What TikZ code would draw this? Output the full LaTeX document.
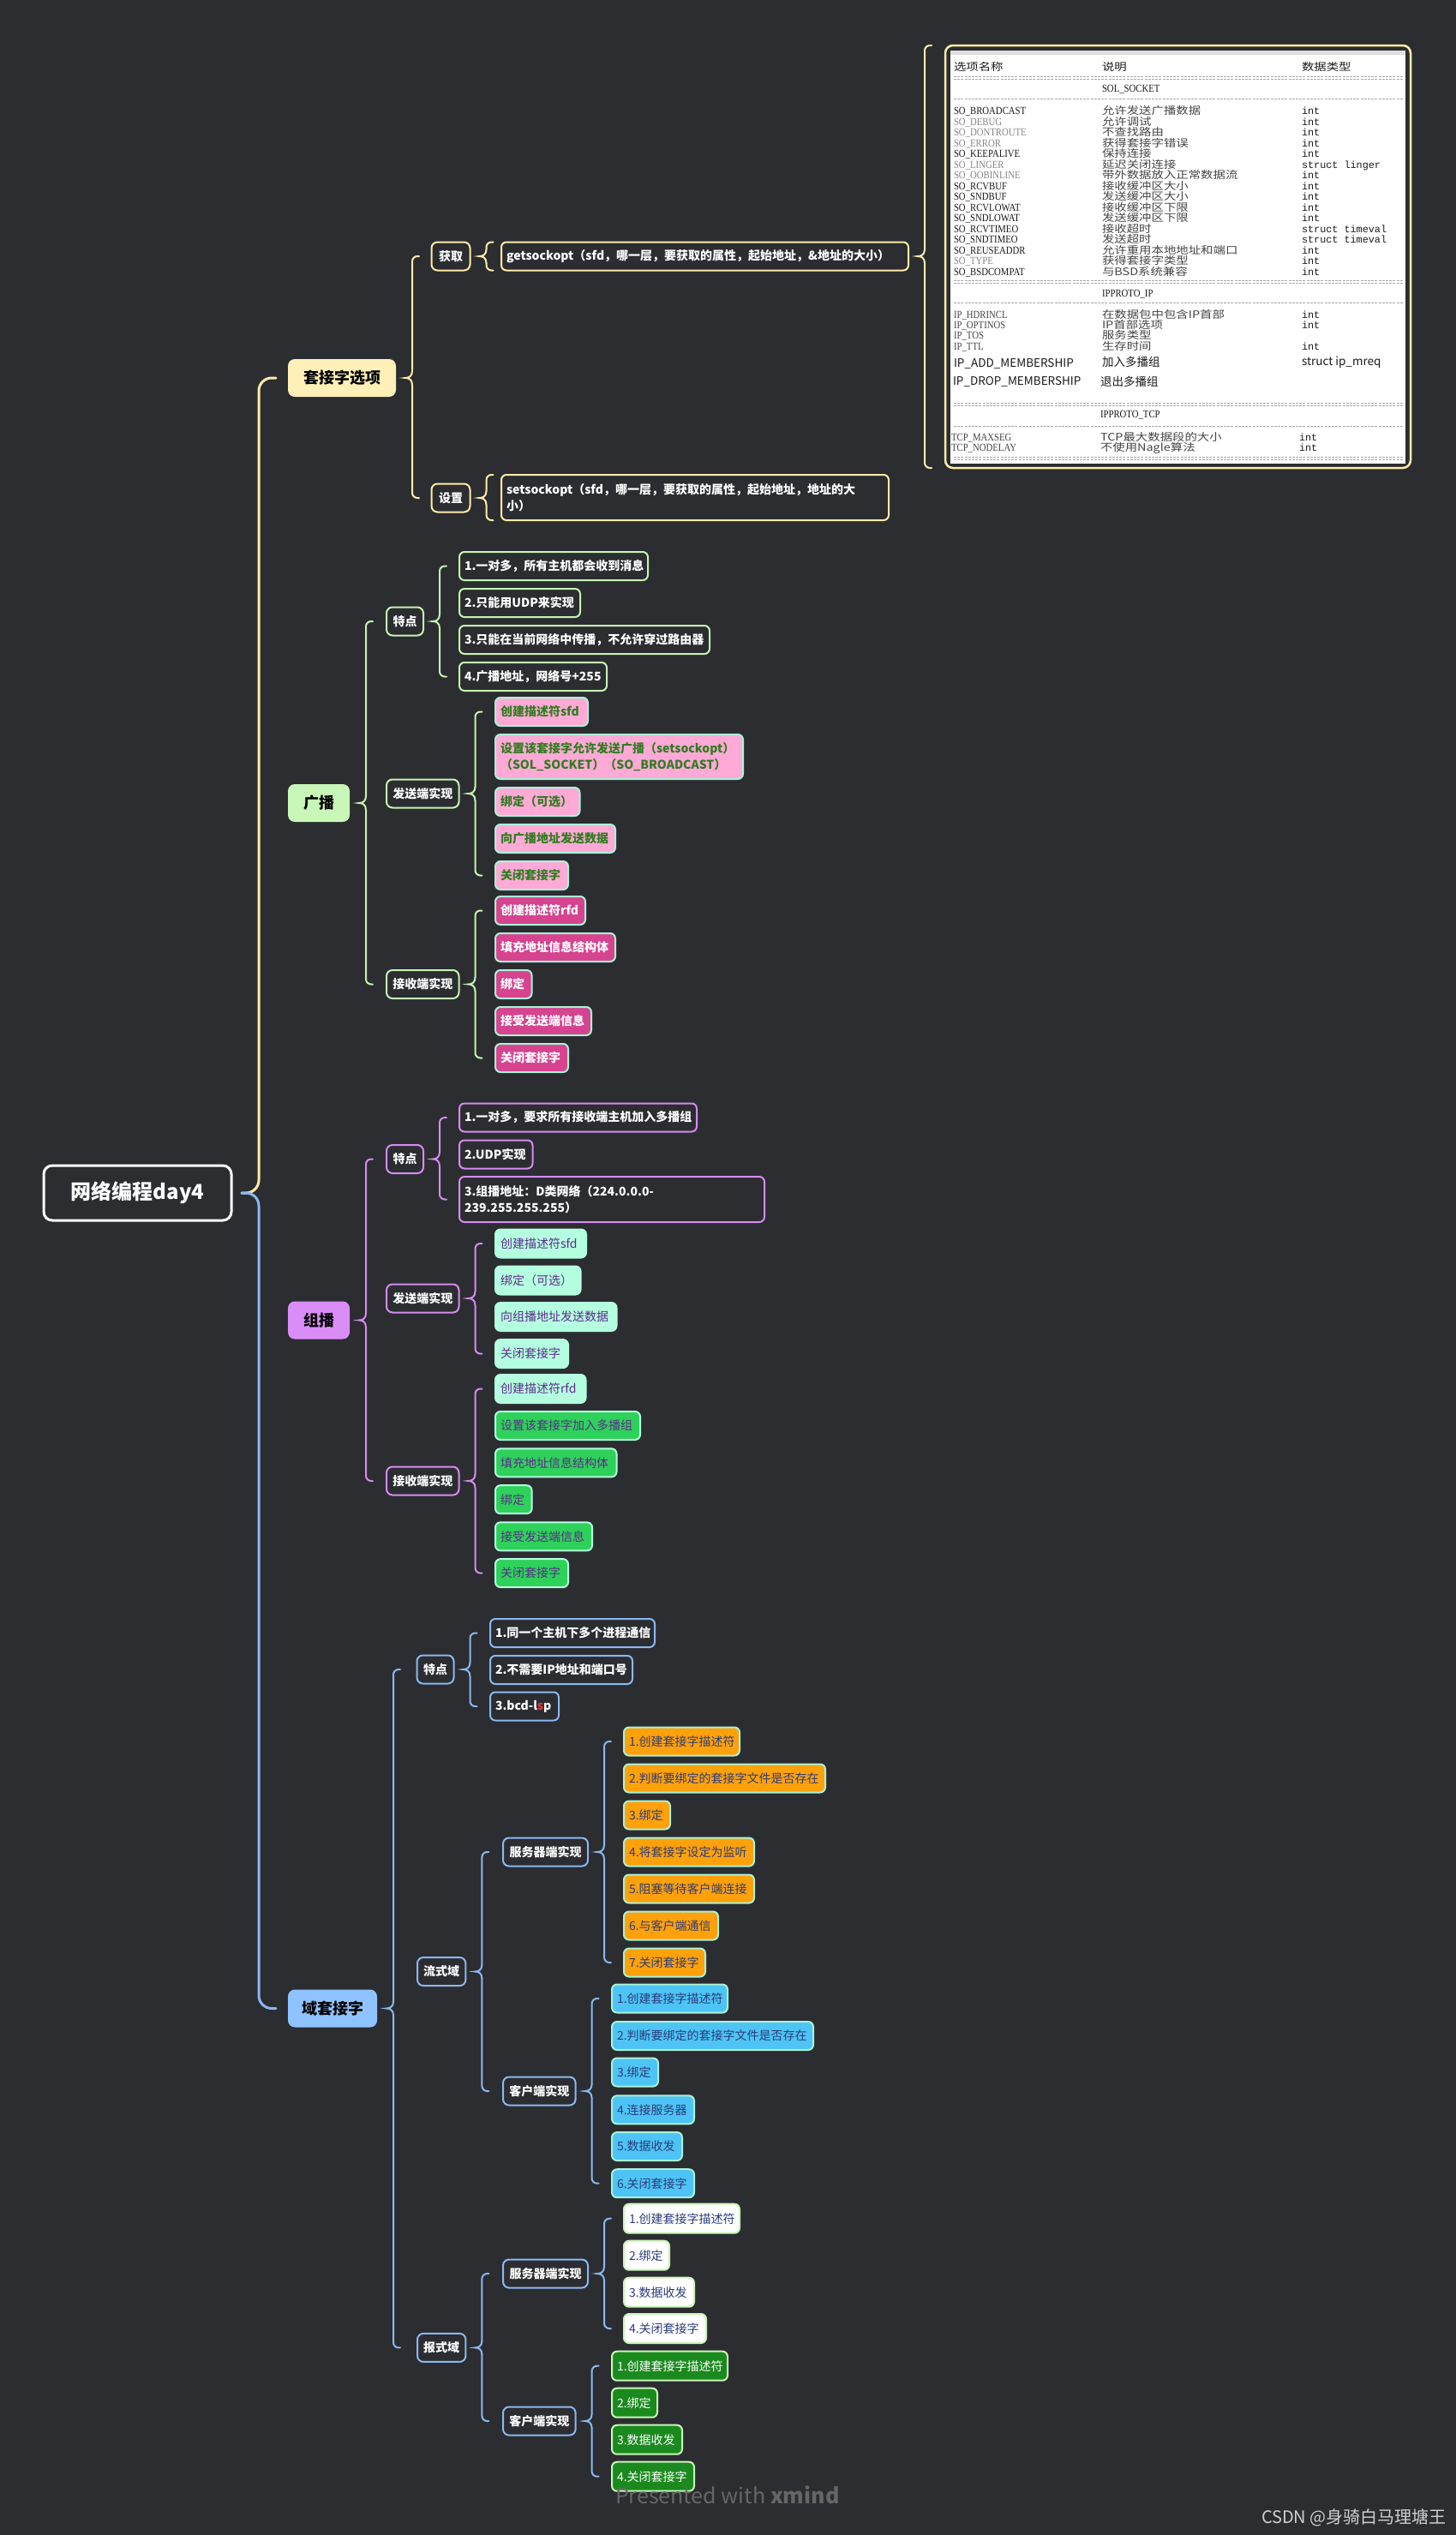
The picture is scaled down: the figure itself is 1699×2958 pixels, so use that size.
\documentclass[tikz,border=0pt]{standalone}
\usepackage{fontspec}
\setmainfont{Noto Sans CJK SC}
\newfontfamily\tabserif[FakeStretch=0.86]{Liberation Serif}
\newfontfamily\tabcjk[FakeStretch=1.2]{Noto Sans CJK SC}
\newfontfamily\tabmono{Liberation Mono}
\usetikzlibrary{calc}
\definecolor{bg}{HTML}{2B2D31}
\definecolor{yel}{HTML}{FFEBA8}
\definecolor{yelF}{HTML}{FFF0B8}
\definecolor{grn}{HTML}{C6F3B2}
\definecolor{grnF}{HTML}{C9F7B7}
\definecolor{pur}{HTML}{D68BF0}
\definecolor{purF}{HTML}{DA8DF6}
\definecolor{blu}{HTML}{8BB8F0}
\definecolor{bluF}{HTML}{8EC3FF}
\definecolor{pinkF}{HTML}{FFA9D6}
\definecolor{pinkT}{HTML}{2F7D1F}
\definecolor{mintB}{HTML}{A9F2D6}
\definecolor{magF}{HTML}{D6438F}
\definecolor{mintF}{HTML}{B4FFDF}
\definecolor{purT}{HTML}{5E2A8C}
\definecolor{lgrF}{HTML}{2ED15A}
\definecolor{orgF}{HTML}{FFA10A}
\definecolor{navT}{HTML}{2B3B7A}
\definecolor{skyF}{HTML}{4DC4F5}
\definecolor{lgB}{HTML}{C8F5B8}
\definecolor{dgF}{HTML}{1B8A1E}
\definecolor{redT}{HTML}{E53935}
\definecolor{tdark}{HTML}{1A1A1A}
\definecolor{tgray}{HTML}{858585}
\definecolor{tmid}{HTML}{444444}
\definecolor{wmark}{HTML}{666666}
\definecolor{csdn}{HTML}{D0D0D0}
\tikzset{
 nb/.style={inner sep=0pt, outer sep=0pt},
 rootn/.style={nb, draw=white, line width=3pt, fill=bg, rounded corners=10pt, text=white, font=\fontsize{24}{29}\selectfont\bfseries, minimum width=219pt, minimum height=64pt},
 topic/.style={nb, fill=#1, rounded corners=8pt, text=black, font=\fontsize{18}{22}\selectfont\bfseries, minimum height=44pt, anchor=west},
 lbl/.style={nb, draw=#1, fill=bg, line width=2pt, rounded corners=7pt, text=white, font=\fontsize{14}{17}\selectfont\bfseries, minimum height=33pt, anchor=west},
 itm/.style={nb, line width=2pt, rounded corners=6pt, font=\fontsize{14}{19}\selectfont, minimum height=33pt, anchor=west, inner xsep=6pt, align=left},
 ditm/.style={itm, fill=bg, draw=#1, text=white, font=\fontsize{14}{19}\selectfont\bfseries},
 pinkI/.style={itm, fill=pinkF, draw=mintB, text=pinkT, font=\fontsize{14}{19}\selectfont\bfseries},
 magI/.style={itm, fill=magF, draw=mintB, text=white, font=\fontsize{14}{19}\selectfont\bfseries},
 mintI/.style={itm, fill=mintF, draw=mintF, text=purT},
 lgrI/.style={itm, fill=lgrF, draw=mintF, text=purT},
 orgI/.style={itm, fill=orgF, draw=mintB, text=navT},
 skyI/.style={itm, fill=skyF, draw=mintB, text=navT},
 whtI/.style={itm, fill=white, draw=lgB, text=navT},
 dgI/.style={itm, fill=dgF, draw=lgB, text=white},
 brl/.style={draw=#1, line width=2pt, line cap=round},
 tname/.style={nb, anchor=base west, font=\tabserif\fontsize{12.5}{13}\selectfont},
 tdesc/.style={nb, anchor=base west, text=tmid, font=\tabcjk\fontsize{12}{13}\selectfont},
 ttype/.style={nb, anchor=base west, text=tdark, font=\tabmono\fontsize{11.8}{13}\selectfont},
 tsans/.style={nb, anchor=base west, text=tdark, font=\fontsize{13.5}{15}\selectfont},
 tdash/.style={draw=gray!70, line width=0.7pt, dash pattern=on 3pt off 1.2pt},
}
\newcommand\mmbrace[4]{%
 \coordinate (bx) at ($(#2.east)+(19,0)$);
 \draw[brl=#1, rounded corners=6pt] ($(bx |- #3)+(8,0)$) -- (bx |- #3) -- ($(bx)+(0,-8)$);
 \draw[brl=#1] ($(bx)+(0,-8)$) .. controls ($(bx)+(0,-2)$) and ($(bx)+(-4,0)$) .. ($(bx)+(-8,0)$) .. controls ($(bx)+(-4,0)$) and ($(bx)+(0,2)$) .. ($(bx)+(0,8)$);
 \draw[brl=#1, rounded corners=6pt] ($(bx)+(0,8)$) -- (bx |- #4) -- ($(bx |- #4)+(8,0)$);
}
\begin{document}
\begin{tikzpicture}[x=1pt,y=-1pt]
\useasboundingbox (0,0) rectangle (1699,2958);
\fill[bg] (0,0) rectangle (1699,2958);

% root and main topics
\node[rootn] (root) at (160.5,1392) {网络编程day4};
\node[topic=yelF, minimum width=126pt] (t1) at (336,441) {套接字选项};
\node[topic=grnF, minimum width=72pt] (t2) at (336,937) {广播};
\node[topic=purF, minimum width=72pt] (t3) at (336,1540.5) {组播};
\node[topic=bluF, minimum width=104pt] (t4) at (336,2343.5) {域套接字};

% socket options
\node[lbl=yel, minimum width=45pt] (s1) at (503.5,299) {获取};
\node[lbl=yel, minimum width=45pt] (s2) at (503.5,581) {设置};
\node[ditm=yel, text width=463pt] (gso) at (585,299) {getsockopt（sfd，哪一层，要获取的属性，起始地址，\&地址的大小）};
\node[ditm=yel, text width=440pt, minimum height=53pt] (sso) at (585,580.5) {setsockopt（sfd，哪一层，要获取的属性，起始地址，地址的大\\小）};

% table
\node[nb, draw=yel, line width=2.5pt, fill=bg, rounded corners=9pt, minimum width=543pt, minimum height=493pt] (tbl) at (1374.5,299.5) {};
\node[nb, fill=white, minimum width=531pt, minimum height=482pt] (tblw) at (1374.5,300) {};
\fill[gray!25] (1109,59) rectangle (1640,64);
\foreach \yy in {91,329,472,535} {
 \draw[tdash] (1113,\yy-1.5) -- (1637,\yy-1.5);
 \draw[tdash] (1113,\yy+1.5) -- (1637,\yy+1.5);
}
\foreach \yy in {115,353,497} {\draw[tdash] (1113,\yy) -- (1637,\yy);}
\node[tdesc, text=tdark] (h1) at (1113,82.5) {选项名称};
\node[tdesc, text=tdark] (h2) at (1286,82.5) {说明};
\node[tdesc, text=tdark] (h3) at (1519,82.5) {数据类型};
\node[tname, text=tdark] (h4) at (1286,107.5) {SOL\_SOCKET};
\foreach \yy/\nm/\ds/\ty/\cl [count=\k] in {
129/SO\_BROADCAST/允许发送广播数据/int/tdark,
141.5/SO\_DEBUG/允许调试/int/tgray,
154/SO\_DONTROUTE/不查找路由/int/tgray,
166.5/SO\_ERROR/获得套接字错误/int/tgray,
179/SO\_KEEPALIVE/保持连接/int/tdark,
191.5/SO\_LINGER/延迟关闭连接/struct linger/tgray,
204/SO\_OOBINLINE/带外数据放入正常数据流/int/tgray,
216.5/SO\_RCVBUF/接收缓冲区大小/int/tdark,
229/SO\_SNDBUF/发送缓冲区大小/int/tdark,
241.5/SO\_RCVLOWAT/接收缓冲区下限/int/tdark,
254/SO\_SNDLOWAT/发送缓冲区下限/int/tdark,
266.5/SO\_RCVTIMEO/接收超时/struct timeval/tdark,
279/SO\_SNDTIMEO/发送超时/struct timeval/tdark,
291.5/SO\_REUSEADDR/允许重用本地地址和端口/int/tdark,
304/SO\_TYPE/获得套接字类型/int/tgray,
316.5/SO\_BSDCOMPAT/与BSD系统兼容/int/tdark} {
 \node[tname, text=\cl] (tn\k) at (1113,\yy+4.5) {\nm};
 \node[tdesc] (td\k) at (1286,\yy+4.5) {\ds};
 \node[ttype] (tt\k) at (1519,\yy+4.5) {\ty};
}
\node[tname, text=tdark] (h5) at (1286,346.5) {IPPROTO\_IP};
\node[tname, text=tmid] (i1) at (1113,371.5) {IP\_HDRINCL};
\node[tdesc] (i1d) at (1286,371.5) {在数据包中包含IP首部};
\node[ttype] (i1t) at (1519,371.5) {int};
\node[tname, text=tmid] (i2) at (1113,383.5) {IP\_OPTINOS};
\node[tdesc] (i2d) at (1286,383.5) {IP首部选项};
\node[ttype] (i2t) at (1519,383.5) {int};
\node[tname, text=tmid] (i3) at (1113,395.5) {IP\_TOS};
\node[tdesc] (i3d) at (1286,395.5) {服务类型};
\node[tname, text=tmid] (i4) at (1113,408.5) {IP\_TTL};
\node[tdesc] (i4d) at (1286,408.5) {生存时间};
\node[ttype] (i4t) at (1519,408.5) {int};
\node[tsans] (i5) at (1113,428) {IP\_ADD\_MEMBERSHIP};
\node[tsans] (i5d) at (1286,427) {加入多播组};
\node[tsans] (i5t) at (1519,426) {struct ip\_mreq};
\node[tsans] (i6) at (1112,449) {IP\_DROP\_MEMBERSHIP};
\node[tsans] (i6d) at (1284,450) {退出多播组};
\node[tname, text=tdark] (h6) at (1284,487.5) {IPPROTO\_TCP};
\node[tname, text=tmid] (c1) at (1110,514.5) {TCP\_MAXSEG};
\node[tdesc] (c1d) at (1284,514.5) {TCP最大数据段的大小};
\node[ttype] (c1t) at (1516,514.5) {int};
\node[tname, text=tmid] (c2) at (1110,526.5) {TCP\_NODELAY};
\node[tdesc] (c2d) at (1284,526.5) {不使用Nagle算法};
\node[ttype] (c2t) at (1516,526.5) {int};

% broadcast
\node[lbl=grn, minimum width=43pt] (b1) at (451,725) {特点};
\node[lbl=grn, minimum width=84.5pt] (b2) at (451,926) {发送端实现};
\node[lbl=grn, minimum width=84.5pt] (b3) at (451,1148.5) {接收端实现};
\node[ditm=grn, text width=208pt] (b11) at (536,660.5) {1.一对多，所有主机都会收到消息};
\node[ditm=grn, text width=129pt] (b12) at (536,703.5) {2.只能用UDP来实现};
\node[ditm=grn, text width=280pt] (b13) at (536,746.5) {3.只能在当前网络中传播，不允许穿过路由器};
\node[ditm=grn, text width=160pt] (b14) at (536,789.5) {4.广播地址，网络号+255};
\node[pinkI, text width=96pt] (b21) at (578,830.5) {创建描述符sfd};
\node[pinkI, text width=277pt, minimum height=52pt] (b22) at (578,883) {设置该套接字允许发送广播（setsockopt）\\（SOL\_SOCKET）（SO\_BROADCAST）};
\node[pinkI, text width=86.5pt] (b23) at (578,935.5) {绑定（可选）};
\node[pinkI, text width=128pt] (b24) at (578,978.5) {向广播地址发送数据};
\node[pinkI, text width=73pt] (b25) at (578,1021.5) {关闭套接字};
\node[magI, text width=93pt] (b31) at (578,1062.5) {创建描述符rfd};
\node[magI, text width=128pt] (b32) at (578,1105.5) {填充地址信息结构体};
\node[magI, text width=30.5pt] (b33) at (578,1148.5) {绑定};
\node[magI, text width=100pt] (b34) at (578,1191.5) {接受发送端信息};
\node[magI, text width=73pt] (b35) at (578,1234.5) {关闭套接字};

% multicast
\node[lbl=pur, minimum width=43pt] (p1) at (451,1352.5) {特点};
\node[lbl=pur, minimum width=84.5pt] (p2) at (451,1515) {发送端实现};
\node[lbl=pur, minimum width=84.5pt] (p3) at (451,1728) {接收端实现};
\node[ditm=pur, text width=265pt] (p11) at (536,1304) {1.一对多，要求所有接收端主机加入多播组};
\node[ditm=pur, text width=73.5pt] (p12) at (536,1347) {2.UDP实现};
\node[ditm=pur, text width=344pt, minimum height=53pt] (p13) at (536,1399.5) {3.组播地址：D类网络（224.0.0.0-\\239.255.255.255）};
\node[mintI, text width=94pt] (p21) at (578,1451) {创建描述符sfd};
\node[mintI, text width=87.6pt] (p22) at (578,1494) {绑定（可选）};
\node[mintI, text width=129.5pt] (p23) at (578,1536.5) {向组播地址发送数据};
\node[mintI, text width=73pt] (p24) at (578,1579.6) {关闭套接字};
\node[mintI, text width=93.5pt] (p31) at (578,1620.5) {创建描述符rfd};
\node[lgrI, text width=157pt] (p32) at (578,1663.5) {设置该套接字加入多播组};
\node[lgrI, text width=129.5pt] (p33) at (578,1706.8) {填充地址信息结构体};
\node[lgrI, text width=30.6pt] (p34) at (578,1749.7) {绑定};
\node[lgrI, text width=101pt] (p35) at (578,1792.8) {接受发送端信息};
\node[lgrI, text width=73pt] (p36) at (578,1835.6) {关闭套接字};

% domain sockets
\node[lbl=blu, minimum width=43pt] (d1) at (486.5,1948) {特点};
\node[lbl=blu, minimum width=56.4pt] (d2) at (487,2300.5) {流式域};
\node[lbl=blu, minimum width=56.4pt] (d3) at (487,2739.4) {报式域};
\node[ditm=blu, text width=180pt] (d11) at (572,1905.5) {1.同一个主机下多个进程通信};
\node[ditm=blu, text width=154pt] (d12) at (572,1948.5) {2.不需要IP地址和端口号};
\node[ditm=blu, text width=68pt] (d13) at (572,1991) {3.bcd-l{\color{redT}s}p};
\node[lbl=blu, minimum width=99pt] (d21) at (587,2161) {服务器端实现};
\node[lbl=blu, minimum width=84.6pt] (d22) at (587,2440) {客户端实现};
\node[orgI, text width=123pt] (o1) at (728,2032) {1.创建套接字描述符};
\node[orgI, text width=223pt] (o2) at (728,2075) {2.判断要绑定的套接字文件是否存在};
\node[orgI, text width=42pt] (o3) at (728,2118) {3.绑定};
\node[orgI, text width=140pt] (o4) at (728,2161) {4.将套接字设定为监听};
\node[orgI, text width=140pt] (o5) at (728,2204) {5.阻塞等待客户端连接};
\node[orgI, text width=98pt] (o6) at (728,2247) {6.与客户端通信};
\node[orgI, text width=83pt] (o7) at (728,2290) {7.关闭套接字};
\node[skyI, text width=123pt] (k1) at (714,2332) {1.创建套接字描述符};
\node[skyI, text width=223pt] (k2) at (714,2375.5) {2.判断要绑定的套接字文件是否存在};
\node[skyI, text width=42pt] (k3) at (714,2418) {3.绑定};
\node[skyI, text width=84pt] (k4) at (714,2461.8) {4.连接服务器};
\node[skyI, text width=70pt] (k5) at (714,2504.5) {5.数据收发};
\node[skyI, text width=84pt] (k6) at (714,2547.7) {6.关闭套接字};
\node[lbl=blu, minimum width=99pt] (d31) at (587,2653) {服务器端实现};
\node[lbl=blu, minimum width=84.6pt] (d32) at (587,2825) {客户端实现};
\node[whtI, text width=123pt, minimum height=34pt] (w1) at (728,2588.7) {1.创建套接字描述符};
\node[whtI, text width=41pt, minimum height=34pt] (w2) at (728,2631.7) {2.绑定};
\node[whtI, text width=70pt, minimum height=34pt] (w3) at (728,2674.7) {3.数据收发};
\node[whtI, text width=84pt, minimum height=34pt] (w4) at (728,2717) {4.关闭套接字};
\node[dgI, text width=123pt, minimum height=34pt] (g1) at (714,2760.7) {1.创建套接字描述符};
\node[dgI, text width=41pt, minimum height=34pt] (g2) at (714,2803.7) {2.绑定};
\node[dgI, text width=70pt, minimum height=34pt] (g3) at (714,2846.7) {3.数据收发};
\node[dgI, text width=84pt, minimum height=34pt] (g4) at (714,2889.7) {4.关闭套接字};

% root brace
\coordinate (rb) at ($(root.east)+(32,0)$);
\draw[brl=yel, line width=3pt, rounded corners=15pt] ($(root.east)+(12,0)$) -- (rb) -- (rb |- t1.west) -- ($(rb |- t1.west)+(20,0)$);
\draw[brl=blu, line width=3pt, rounded corners=15pt] ($(root.east)+(12,0)$) -- (rb) -- (rb |- t4.west) -- ($(rb |- t4.west)+(20,0)$);

% braces
\mmbrace{yel}{t1}{s1.west}{s2.west}
\mmbrace{yel}{s1}{gso.north west}{gso.south west}
\mmbrace{yel}{s2}{sso.north west}{sso.south west}
\mmbrace{yel}{gso}{tbl.north west}{tbl.south west}
\mmbrace{grn}{t2}{b1.west}{b3.west}
\mmbrace{grn}{b1}{b11.west}{b14.west}
\mmbrace{grn}{b2}{b21.west}{b25.west}
\mmbrace{grn}{b3}{b31.west}{b35.west}
\mmbrace{pur}{t3}{p1.west}{p3.west}
\mmbrace{pur}{p1}{p11.west}{p13.west}
\mmbrace{pur}{p2}{p21.west}{p24.west}
\mmbrace{pur}{p3}{p31.west}{p36.west}
\mmbrace{blu}{t4}{d1.west}{d3.west}
\mmbrace{blu}{d1}{d11.west}{d13.west}
\mmbrace{blu}{d2}{d21.west}{d22.west}
\mmbrace{blu}{d21}{o1.west}{o7.west}
\mmbrace{blu}{d22}{k1.west}{k6.west}
\mmbrace{blu}{d3}{d31.west}{d32.west}
\mmbrace{blu}{d31}{w1.west}{w4.west}
\mmbrace{blu}{d32}{g1.west}{g4.west}

% watermarks
\node[nb, anchor=base west, text=wmark, font=\fontsize{25}{30}\selectfont] (wm) at (718,2921) {Presented with \textbf{xmind}};
\node[nb, anchor=west, text=csdn, font=\fontsize{20}{24}\selectfont] (cs) at (1472,2938) {CSDN @身骑白马理塘王};
\end{tikzpicture}
\end{document}
